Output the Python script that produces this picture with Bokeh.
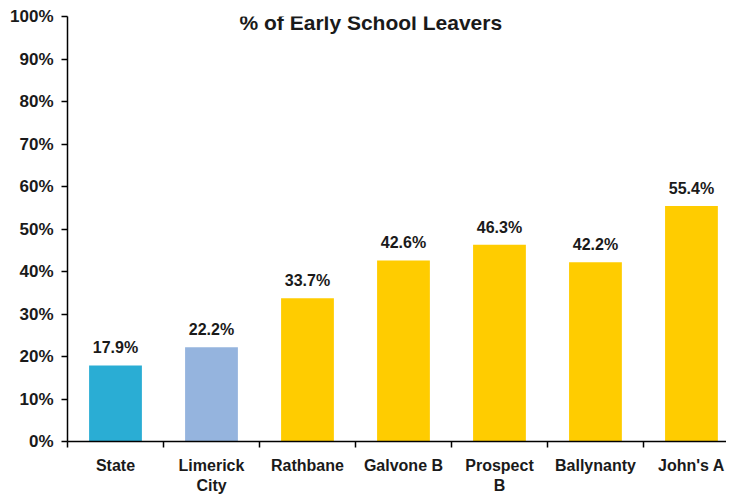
from bokeh.plotting import figure
from bokeh.models import ColumnDataSource, Range1d, FixedTicker, PrintfTickFormatter, LabelSet, Label
from bokeh.core.properties import value
from bokeh.embed import file_html
from bokeh.resources import INLINE

categories = ["State", "Limerick\nCity", "Rathbane", "Galvone B", "Prospect\nB", "Ballynanty", "John's A"]
values = [17.9, 22.2, 33.7, 42.6, 46.3, 42.2, 55.4]
colors = ["#2AADD4", "#95B4DE", "#FFCC00", "#FFCC00", "#FFCC00", "#FFCC00", "#FFCC00"]
y_ticks = list(range(0, 101, 10))
title_text = "% of Early School Leavers"

FONT = "Liberation Sans"
n = len(categories)
centers = [i + 0.5 for i in range(n)]

src = ColumnDataSource(dict(
    x=centers, top=values, color=colors,
    label=[f"{v:.1f}%" for v in values],
))

p = figure(width=726, height=496, output_backend="svg", toolbar_location=None,
           x_range=Range1d(0, 6.865), y_range=Range1d(0, 100),
           min_border_left=67, min_border_right=0, min_border_top=16, min_border_bottom=53)
p.outline_line_color = None
p.grid.grid_line_color = None
p.background_fill_color = "white"
p.border_fill_color = "white"

p.vbar(x="x", top="top", width=0.55, bottom=0, color="color", line_color=None, source=src)

labels = LabelSet(x="x", y="top", text="label", source=src, text_align="center",
                  text_baseline="bottom", y_offset=9, text_font=value(FONT),
                  text_font_style="bold", text_font_size="16px", text_color="#1a1a1a")
p.add_layout(labels)

p.add_layout(Label(x=3.16, y=98.6, text=title_text, text_align="center", text_baseline="middle",
                   text_font=FONT, text_font_style="bold", text_font_size="21px",
                   text_color="#1a1a1a"))

# y axis
p.yaxis.ticker = FixedTicker(ticks=y_ticks)
p.yaxis.formatter = PrintfTickFormatter(format="%d%%")
p.yaxis.minor_tick_line_color = None
p.yaxis.major_tick_out = 6
p.yaxis.major_tick_in = 0
p.yaxis.major_label_standoff = 8
p.yaxis.axis_line_width = 1.5
p.yaxis.axis_line_color = "black"
p.yaxis.major_tick_line_width = 1.5
p.yaxis.major_label_text_font = FONT
p.yaxis.major_label_text_font_style = "bold"
p.yaxis.major_label_text_font_size = "17px"
p.yaxis.major_label_text_color = "#1a1a1a"

# x axis: labels at centers, ticks at boundaries
p.xaxis.ticker = FixedTicker(ticks=centers, minor_ticks=list(range(n + 1)))
p.xaxis.major_label_overrides = {c: lab for c, lab in zip(centers, categories)}
p.xaxis.major_tick_line_color = None
p.xaxis.major_tick_out = 0
p.xaxis.major_tick_in = 0
p.xaxis.minor_tick_out = 6
p.xaxis.minor_tick_in = 0
p.xaxis.minor_tick_line_width = 1.5
p.xaxis.minor_tick_line_color = "black"
p.xaxis.axis_line_width = 1.5
p.xaxis.axis_line_color = "black"
p.xaxis.major_label_standoff = 9
p.xaxis.major_label_text_font = FONT
p.xaxis.major_label_text_font_style = "bold"
p.xaxis.major_label_text_font_size = "16px"
p.xaxis.major_label_text_color = "#1a1a1a"

open("out.html", "w").write(file_html(p, INLINE))
